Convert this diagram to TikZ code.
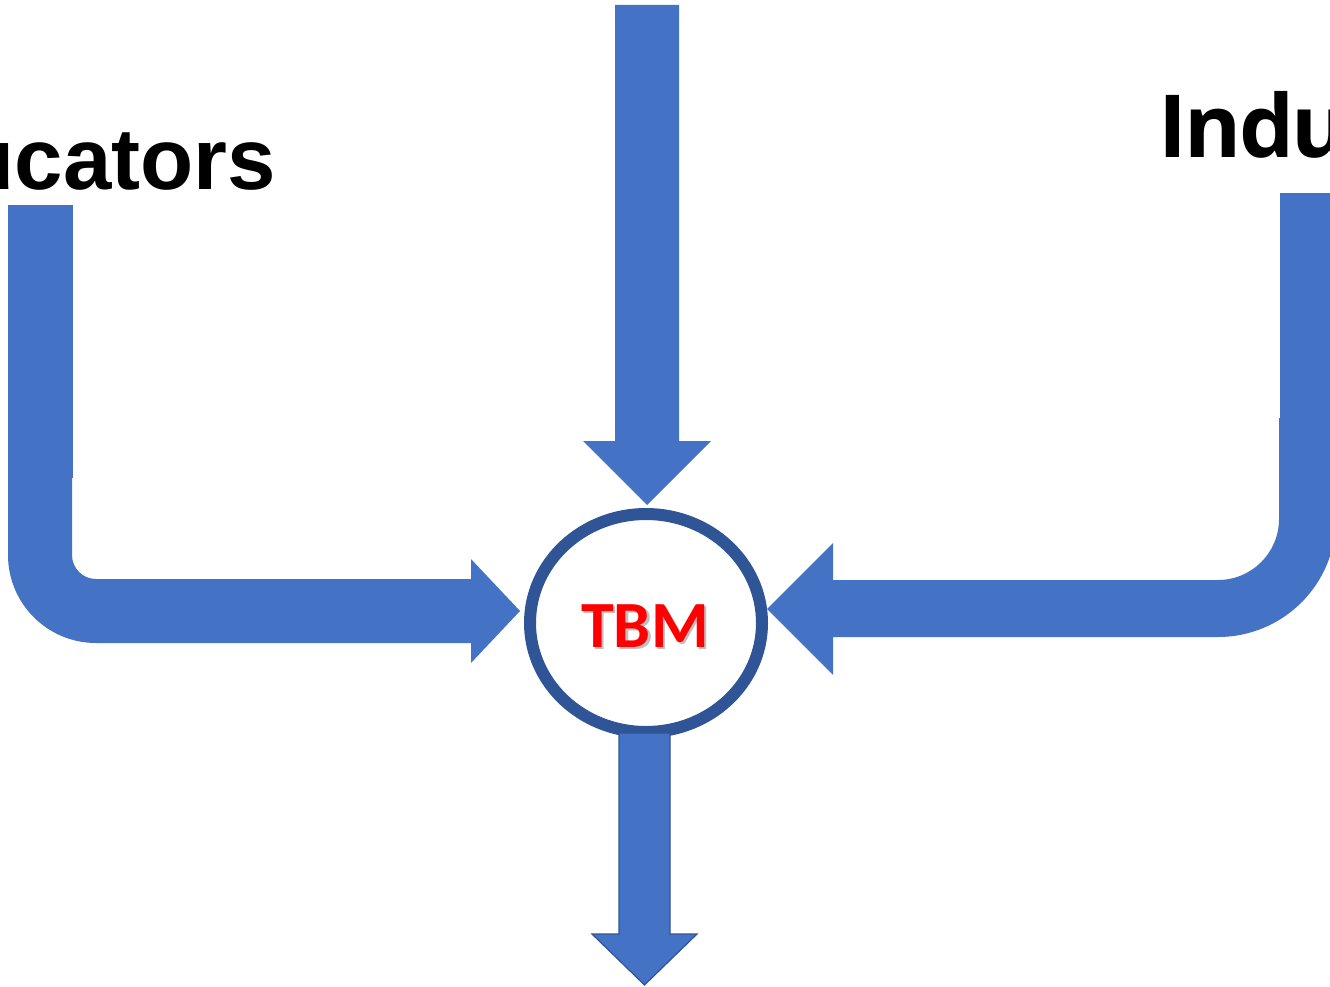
\documentclass[tikz,border=0pt]{standalone}
\usepackage{fontspec}
\usetikzlibrary{shapes.geometric}
\newfontfamily\arialfont{Liberation Sans}
\newfontfamily\opensfont[LetterSpace=-3]{Open Sans}
\newfontfamily\carlfont{Carlito}
\definecolor{blockblue}{HTML}{4472C4}
\definecolor{darkblue}{HTML}{2F5597}
\definecolor{tbmred}{HTML}{FF0000}
\tikzset{
  blockarrow/.style={fill=blockblue, draw=none},
  outlinedarrow/.style={fill=blockblue, draw=darkblue, line width=1.2pt, line join=miter},
  hub/.style={ellipse, draw=darkblue, fill=white, line width=12pt, minimum width=232pt, minimum height=218pt, inner sep=0pt},
  biglabel/.style={inner sep=0pt, text=black},
  hubtext/.style={inner sep=0pt, font=\carlfont\bfseries\fontsize{66}{70}\selectfont}
}
\begin{document}
\begin{tikzpicture}[x=1pt,y=-1pt]
\useasboundingbox (0,0) rectangle (1330,987);
\fill[white] (0,0) rectangle (1330,987);

% labels
\node[biglabel, anchor=base east, font=\arialfont\bfseries\fontsize{87}{100}\selectfont] (educ) at (276,190) {ucators};
\node[biglabel, anchor=base west, font=\opensfont\bfseries\fontsize{87}{100}\selectfont] (indu) at (1158,158) {Indu};

% top arrow
\path[blockarrow] (615,5) -- (615,441) -- (583,441) -- (647,505) -- (711,441) -- (679,441) -- (679,5) -- cycle;

% left bent arrow
\path[blockarrow] (8,205) rectangle (73,478);
\path[blockarrow] (8,478) -- (8,555)
  .. controls (8,603.6) and (47.4,643) .. (96,643)
  -- (471,643) -- (471,663) -- (520,611) -- (471,559) -- (471,579) -- (96,579)
  .. controls (82.7,579) and (72,568.3) .. (72,555)
  -- (72,478) -- cycle;

% right bent arrow
\path[blockarrow] (1280,193) rectangle (1337,418);
\path[blockarrow] (1279,418) -- (1279,519)
  .. controls (1279,552.7) and (1251.7,580) .. (1218,580)
  -- (833,580) -- (833,543) -- (767,609) -- (833,675) -- (833,637) -- (1218,637)
  .. controls (1283.2,637) and (1336,584.2) .. (1336,519)
  -- (1336,418) -- cycle;

% hub
\node[hub] (tbm) at (646,623) {};

% bottom arrow
\path[outlinedarrow] (619,733) -- (619,934) -- (592,934) -- (644.5,985) -- (697,934) -- (670,934) -- (670,733) -- cycle;

% hub text with shadow
\node[hubtext, text=black!45, opacity=0.55] (tbmshadow) at ([xshift=2.5pt,yshift=-2.5pt]645,626) {TBM};
\node[hubtext, text=tbmred] (tbmlabel) at (645,626) {TBM};
\end{tikzpicture}
\end{document}
